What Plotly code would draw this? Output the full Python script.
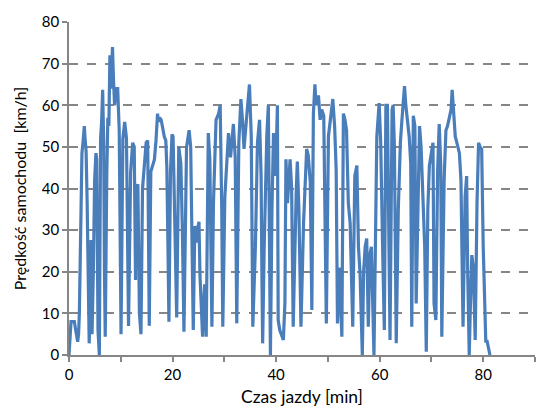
import plotly.graph_objects as go

# Time [min] and speed [km/h]
time_min = [0, 0.39, 1.03, 1.3, 1.67, 1.85, 2.0, 2.3, 2.5, 2.7, 2.96, 3.1, 3.3, 3.5, 3.7, 3.9, 4.1, 4.25, 4.35, 4.45,
            4.7, 4.95, 5.2, 5.35, 5.6, 5.86, 6.1, 6.3, 6.5, 6.7, 6.85, 7.0, 7.3, 7.5, 7.7, 7.9, 8.1, 8.4, 8.6, 8.8,
            9.1, 9.4, 9.7, 9.9, 10.05, 10.4, 10.76, 11.1, 11.3, 11.5, 11.9, 12.3, 12.6, 12.85, 13.0, 13.3, 13.6, 13.9,
            14.2, 14.6, 14.9, 15.2, 15.35, 15.5, 15.8, 16.2, 16.5, 16.8, 17.1, 17.3, 17.5, 17.8, 18.1, 18.4, 18.7,
            18.9, 19.1, 19.3, 19.6, 19.9, 20.1, 20.4, 20.8, 21.2, 21.6, 21.9, 22.2, 22.7, 23.2, 23.5, 23.8, 24.0,
            24.3, 24.6, 24.8, 25.1, 25.3, 25.8, 26.0, 26.2, 26.5, 26.9, 27.2, 27.4, 27.6, 27.9, 28.4, 28.9, 29.2,
            29.5, 29.7, 30.1, 30.5, 30.8, 31.2, 31.75, 32.1, 32.25, 32.4, 32.8, 33.2, 33.5, 33.8, 34.2, 34.65, 34.85,
            35.2, 35.35, 35.5, 36.0, 36.4, 36.8, 37.1, 37.25, 37.4, 37.7, 38.2, 38.5, 38.7, 38.9, 39.2, 39.5, 39.9,
            40.25, 40.4, 40.7, 41.0, 41.4, 41.7, 41.9, 42.2, 42.7, 43.0, 43.3, 43.9, 44.1, 44.4, 44.8, 45.3, 45.6,
            45.9, 46.2, 46.6, 46.9, 47.2, 47.5, 47.7, 47.9, 48.2, 48.5, 48.8, 49.2, 49.5, 49.7, 50.1, 50.4, 50.95,
            51.3, 51.6, 51.85, 52.2, 52.7, 53.0, 53.3, 53.6, 53.95, 54.3, 54.8, 55.2, 55.6, 55.9, 56.2, 56.65, 56.9,
            57.2, 57.5, 57.8, 58.1, 58.4, 58.9, 59.1, 59.45, 59.9, 60.2, 60.6, 60.9, 61.2, 61.5, 61.75, 62.0, 62.4,
            62.6, 62.85, 63.2, 63.6, 64.0, 64.3, 64.6, 64.8, 65.05, 65.4, 65.7, 66.0, 66.2, 66.5, 66.8, 67.05, 67.3,
            67.7, 68.0, 68.3, 68.7, 69.0, 69.3, 69.6, 69.95, 70.3, 70.5, 70.85, 71.2, 71.5, 71.8, 72.0, 72.45, 72.8,
            73.1, 73.5, 73.8, 74.0, 74.25, 74.6, 74.9, 75.4, 75.7, 75.9, 76.1, 76.5, 76.8, 77.0, 77.3, 77.5, 77.8,
            78.1, 78.45, 78.8, 79.1, 79.4, 79.7, 80.0, 80.3, 80.5, 80.7, 81.3]
speed_kmh = [0, 8, 8, 6, 3.2, 5, 10, 33, 48.5, 51, 55, 52, 49, 37, 15, 2.8, 12, 27.6, 18, 5,
             20, 42, 48.5, 47, 6, 0, 52, 56, 63.7, 51, 20, 4.4, 43.5, 57, 55, 72, 64, 74, 66, 60,
             64, 64, 54, 7, 5, 52, 56, 52, 30, 7, 44, 51, 50, 18, 40, 41, 10, 5,
             40, 48, 51, 51.5, 30, 7, 44, 46, 47, 51.5, 58, 56, 57, 56.5, 54, 52.5, 51.5,
             45, 27, 8, 44, 53, 52.5, 37, 9, 50, 46, 30, 5.6, 50, 54, 50, 25, 6,
             31, 27, 30, 32, 19, 4.4, 12, 17, 4.4, 53.3, 47, 25, 6.8, 36.5, 56.5, 58, 60,
             35, 6.8, 38, 48, 53.3, 47.5, 55.5, 47.5, 25, 7.6, 51, 61.5, 56.5, 49.5, 55.5, 62.3, 65,
             52.5, 25, 6.8, 26, 51, 56.5, 43, 20, 2.8, 26, 52.5, 60, 30, 0, 35, 53.3, 43,
             60, 8.4, 6, 5, 3.6, 12.4, 47, 36.5, 47, 40, 6.8, 40, 46.5, 35, 6.8, 31.7, 40,
             49.5, 48, 41.5, 10.8, 58, 65, 60, 62, 62, 56.5, 59, 57.5, 31, 7.6, 52.5, 55.5, 61.5,
             55, 44.5, 7.6, 21, 4.4, 58, 56.5, 54, 36.5, 31.7, 6.8, 43, 45.5, 26, 20, 0, 20,
             26, 28, 6.8, 24, 26, 0, 26, 52.5, 60.5, 51, 24, 6, 60, 60, 31, 3.6, 59,
             60, 50, 2.8, 35, 51, 56.5, 63, 64.6, 60, 55, 52.5, 46, 6.8, 57.5, 55, 12.4, 26,
             55, 50, 41.5, 26, 0.8, 35, 45.5, 48.5, 51, 12.4, 8.4, 44.5, 55.5, 45.5, 4.4, 42, 54,
             55, 57.5, 59, 63.7, 57.5, 52.5, 51, 48.5, 42, 26, 6.8, 38, 43, 20, 0, 10.8, 24,
             21, 3.6, 36.5, 51, 50, 49.5, 26, 12.4, 3, 3.6, 0]

x_tick_values = [0, 10, 20, 30, 40, 50, 60, 70, 80, 90]
x_tick_labels = ["0", "", "20", "", "40", "", "60", "", "80", ""]
y_tick_values = [0, 10, 20, 30, 40, 50, 60, 70, 80]

FONT = "Lato, 'Open Sans', sans-serif"
GRAY = "#868686"

fig = go.Figure()
fig.add_trace(go.Scatter(
    x=time_min, y=speed_kmh, mode="lines",
    line=dict(color="#4a7ebb", width=3.2),
    showlegend=False,
))

fig.update_layout(
    width=554, height=416,
    margin=dict(l=61, r=27, t=14, b=69),
    paper_bgcolor="white", plot_bgcolor="white",
    font=dict(family=FONT, size=15, color="#000000"),
)
fig.update_xaxes(
    range=[0, 90], tickvals=x_tick_values, ticktext=x_tick_labels,
    showgrid=False, zeroline=False,
    showline=True, linecolor=GRAY, linewidth=1.5,
    ticks="outside", ticklen=5, tickcolor=GRAY, tickwidth=1.5,
    tickfont=dict(size=15),
    title=dict(text="Czas jazdy [min]", font=dict(size=17.5), standoff=9),
    automargin=False,
)
fig.update_yaxes(
    range=[0, 80], tickvals=y_tick_values,
    showgrid=True, gridcolor=GRAY, gridwidth=1.5, griddash="dash",
    zeroline=False,
    showline=True, linecolor=GRAY, linewidth=1.5,
    ticks="outside", ticklen=5, tickcolor=GRAY, tickwidth=1.5,
    tickfont=dict(size=15),
    title=dict(text="Prędkość samochodu  [km/h]", font=dict(size=16), standoff=11),
    automargin=False,
)

fig.write_html("out.html")
